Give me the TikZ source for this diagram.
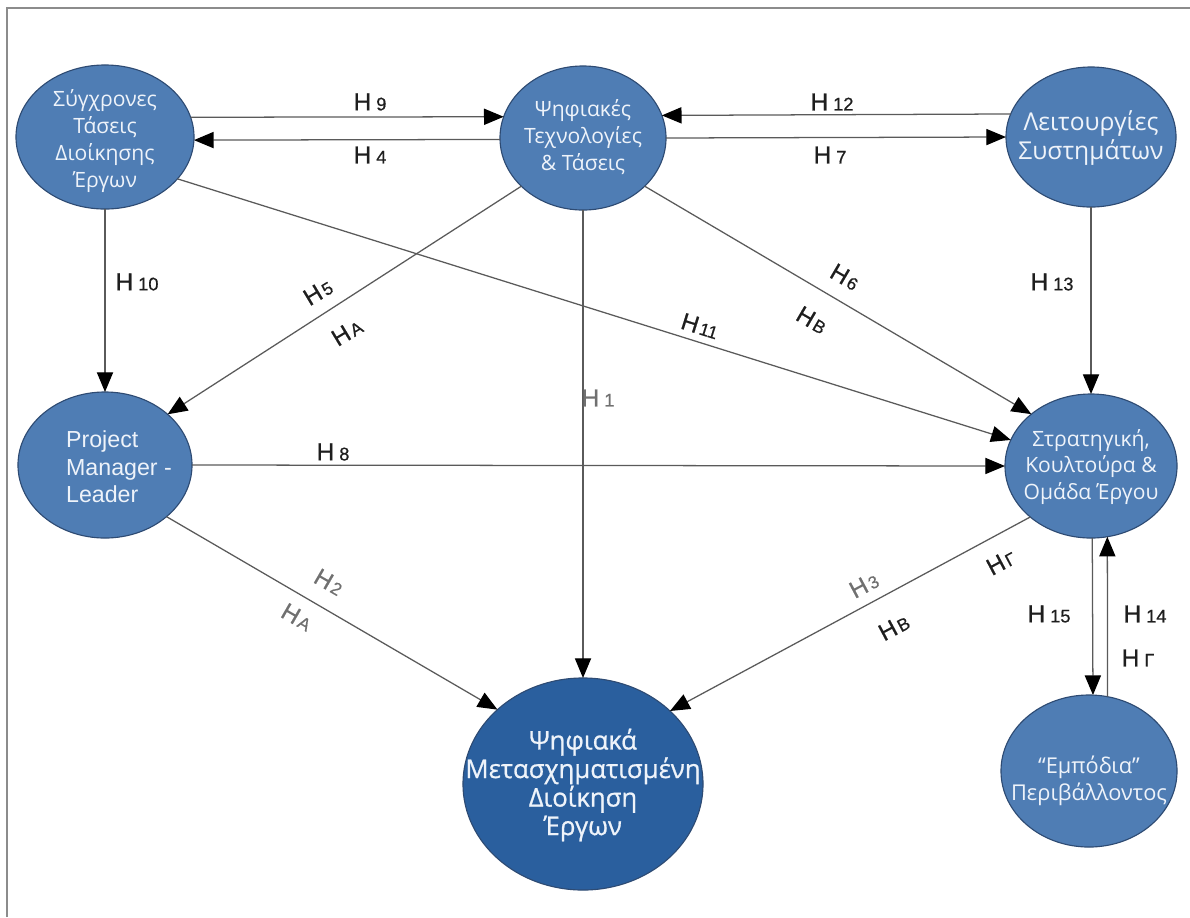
\documentclass[tikz,border=0pt]{standalone}
\usepackage{fontspec}
\setmainfont{Liberation Sans}
\newfontfamily\grk{Open Sans}
\newfontfamily\grkb[FakeBold=0.8]{Open Sans}
\newfontfamily\lblfont[FakeBold=0.6]{Liberation Sans}
\usetikzlibrary{arrows.meta,shapes.geometric}
\definecolor{nodefill}{HTML}{4F7DB4}
\definecolor{nodedark}{HTML}{2A5F9E}
\definecolor{nodeline}{HTML}{2E4B73}
\definecolor{edgecol}{HTML}{5A5A5A}
\definecolor{lbl}{HTML}{1E1E1E}
\definecolor{lblg}{HTML}{707070}
\definecolor{ntext}{HTML}{EEF3FA}
\definecolor{framecol}{HTML}{8C8C8C}
\newcommand\hyp[1]{{\fontsize{17.5}{17.5}\selectfont H}\hspace{3.5pt}{\fontsize{13}{13}\selectfont #1}}
\newcommand\hyps[1]{{\fontsize{17}{17}\selectfont H}\hspace{1.5pt}{\fontsize{12.5}{12.5}\selectfont #1}}
\begin{document}
\begin{tikzpicture}[x=0.025cm,y=-0.025cm,
 ell/.style={ellipse, draw=nodeline, line width=0.8pt, fill=nodefill, inner sep=0pt, outer sep=0pt},
 txt/.style={text=ntext, align=center, inner sep=0pt, font=\grk\fontsize{15}{19}\selectfont},
 arr/.style={draw=edgecol, line width=0.9pt, -{Triangle[length=14pt,width=11.5pt,color=black]}},
 hl/.style={text=lbl, inner sep=0pt, font=\lblfont},
 hg/.style={text=lblg, inner sep=0pt, font=\lblfont}]
\useasboundingbox (0,0) rectangle (1190,917);
\draw[framecol, line width=1.4pt] (7,917) -- (7,8) -- (1190,8);

% nodes
\node[ell, minimum width=4.45cm, minimum height=3.6cm] (S) at (105,137) {};
\node[ell, minimum width=4.15cm, minimum height=3.6cm] (T) at (583,138) {};
\node[ell, minimum width=4.25cm, minimum height=3.5cm] (L) at (1091,137) {};
\node[ell, minimum width=4.35cm, minimum height=3.65cm] (PM) at (105,465) {};
\node[ell, minimum width=4.3cm, minimum height=3.6cm] (St) at (1091,466) {};
\node[ell, fill=nodedark, minimum width=6.0cm, minimum height=5.3cm] (D) at (583,784) {};
\node[ell, minimum width=4.4cm, minimum height=3.8cm] (E) at (1089,771) {};

\node[txt] (Stx) at (105,141) {Σύγχρονες\\Τάσεις\\Διοίκησης\\Έργων};
\node[txt] (Ttx) at (583,137) {Ψηφιακές\\Τεχνολογίες\\\& Τάσεις};
\node[txt, font=\grk\fontsize{17.5}{20}\selectfont] (Ltx) at (1091,138) {Λειτουργίες\\Συστημάτων};
\node[txt, align=left, font=\fontsize{16.5}{19.5}\selectfont] (PMtx) at (119,467) {Project\\Manager -\\Leader};
\node[txt] (Sttx) at (1091,467) {Στρατηγική,\\Κουλτούρα \&\\Ομάδα Έργου};
\node[txt, font=\grkb\fontsize{18.3}{20.3}\selectfont] (Dtx) at (583,785) {Ψηφιακά\\Μετασχηματισμένη\\Διοίκηση\\Έργων};
\node[txt, font=\grk\fontsize{15.5}{19}\selectfont] (Etx) at (1089,781) {“Εμπόδια”\\Περιβάλλοντος};

% connectors
\draw[arr] (S.13) -- (T.165);
\draw[arr] (T.181) -- (S.-2);
\draw[arr] (L.164.8) -- (T.16.3);
\draw[arr] (T.-0.8) -- (L.180);
\draw[arr] (S.south) -- (PM.north);
\draw[arr] (T.218) -- (PM.39.2);
\draw[arr] (S.-30.3) -- (St.162.2);
\draw[arr] (T.south) -- (D.north);
\draw[arr] (T.-38.8) -- (St.139.9);
\draw[arr] (L.south) -- (St.north);
\draw[arr] (PM.east) -- (St.west);
\draw[arr] (PM.-40.1) -- (D.139.3);
\draw[arr] (St.220.1) -- (D.40.4);
\draw[arr] (St.-89.2) -- (E.87.7);
\draw[arr] (E.76.4) -- (St.-77.3);

% labels
\node[hl] (l9) at (370,102) {\hyp{9}};
\node[hl] (l4) at (370,155) {\hyp{4}};
\node[hl] (l12) at (832,102) {\hyp{12}};
\node[hl] (l7) at (830,155) {\hyp{7}};
\node[hl] (l10) at (137,282) {\hyp{10}};
\node[hl] (l13) at (1052,282) {\hyp{13}};
\node[hl] (l8) at (333,452) {\hyp{8}};
\node[hg] (l1) at (598,398) {\hyp{1}};
\node[hl, rotate=31] (l5) at (318,292) {\hyps{5}};
\node[hl, rotate=31] (lA1) at (347,332) {\hyps{A}};
\node[hl, rotate=-17.3] (l11) at (700,326) {\hyps{11}};
\node[hl, rotate=-30.3] (l6) at (845,277) {\hyps{6}};
\node[hl, rotate=-30.3] (lB1) at (812,320) {\hyps{B}};
\node[hg, rotate=-30] (l2) at (329,582) {\hyps{2}};
\node[hg, rotate=-30] (lA2) at (297,617) {\hyps{A}};
\node[hg, rotate=28] (l3) at (864,585) {\hyps{3}};
\node[hl, rotate=28] (lB2) at (894,627) {\hyps{B}};
\node[hl, rotate=28] (lG1) at (1001,562) {\hyps{Γ}};
\node[hl] (l15) at (1049,614) {\hyp{15}};
\node[hl] (l14) at (1145,614) {\hyp{14}};
\node[hl] (lG2) at (1138,658) {\hyp{Γ}};
\end{tikzpicture}
\end{document}
